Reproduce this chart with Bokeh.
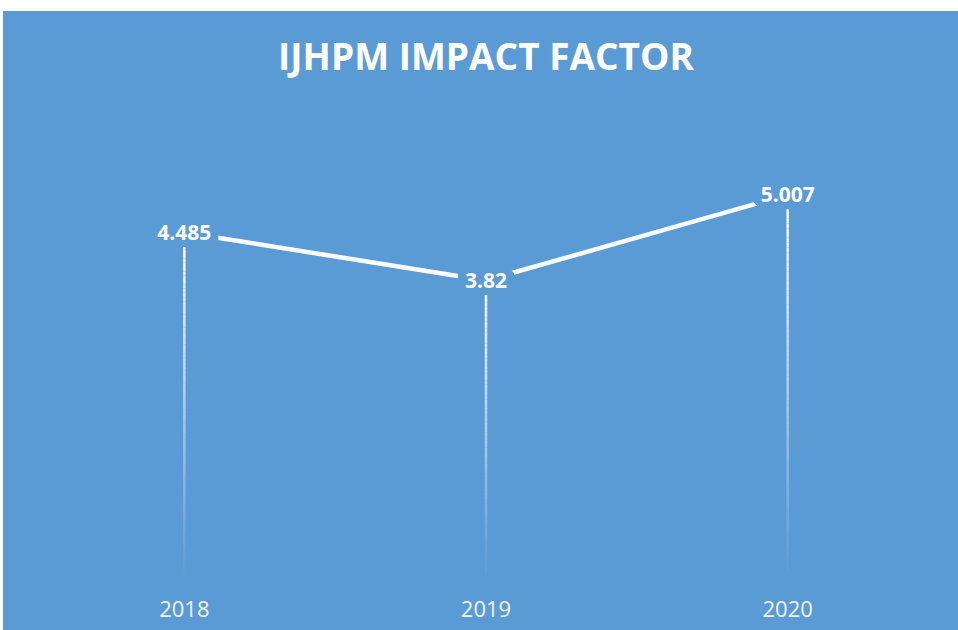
from bokeh.plotting import figure
from bokeh.models import FactorRange, Range1d, ColumnDataSource, LabelSet
from bokeh.core.properties import value
from bokeh.embed import file_html
from bokeh.resources import INLINE

# ---- data ----
years = ["2018", "2019", "2020"]
impact = [4.485, 3.82, 5.007]
value_labels = ["4.485", "3.82", "5.007"]
chart_title = "IJHPM IMPACT FACTOR"

# ---- style ----
BG = "#5B9BD5"
FONT = "Open Sans"
Y0 = -0.294
Y1 = 6.52

p = figure(
    width=955, height=619,
    x_range=FactorRange(factors=years, range_padding=0),
    y_range=Range1d(Y0, Y1),
    output_backend="svg", toolbar_location=None,
    min_border_left=30, min_border_right=20, min_border_bottom=53, min_border_top=74,
    background_fill_color=None, border_fill_color=None, outline_line_color=None,
)
p.styles = {"margin-top": "11px", "margin-left": "3px", "background-color": BG}

p.title.text = chart_title
p.title.align = "center"
p.title.text_font = FONT
p.title.text_font_size = "37px"
p.title.text_font_style = "bold"
p.title.text_color = "white"

# fading drop lines (white -> transparent)
N = 80
x0, y0, y1, alph = [], [], [], []
for yr, v in zip(years, impact):
    for k in range(N):
        a = v + (Y0 - v) * k / N
        b = v + (Y0 - v) * (k + 1) / N
        x0.append(yr)
        y0.append(a)
        y1.append(b)
        alph.append(1.0 - (k + 0.5) / N)
p.segment(x0=x0, y0=y0, x1=x0, y1=y1, line_color="white", line_alpha=alph, line_width=2.5)

# main line
p.line(x=years, y=impact, line_color="white", line_width=4.5)

src = ColumnDataSource(dict(x=years, y=impact, t=value_labels))
labels = LabelSet(
    x="x", y="y", text="t", source=src,
    text_align="center", text_baseline="middle",
    text_font=value(FONT), text_font_size=value("21px"), text_font_style=value("bold"),
    text_color="white",
    background_fill_color=BG, border_line_color=BG, border_line_width=14,
)
p.add_layout(labels)

p.yaxis.visible = False
p.xgrid.grid_line_color = None
p.ygrid.grid_line_color = None
p.xaxis.axis_line_color = None
p.xaxis.major_tick_line_color = None
p.xaxis.minor_tick_line_color = None
p.xaxis.major_label_text_font = FONT
p.xaxis.major_label_text_font_size = "22px"
p.xaxis.major_label_text_color = "#F2F2F2"
p.xaxis.major_label_standoff = 17

open("out.html", "w").write(file_html(p, INLINE))
